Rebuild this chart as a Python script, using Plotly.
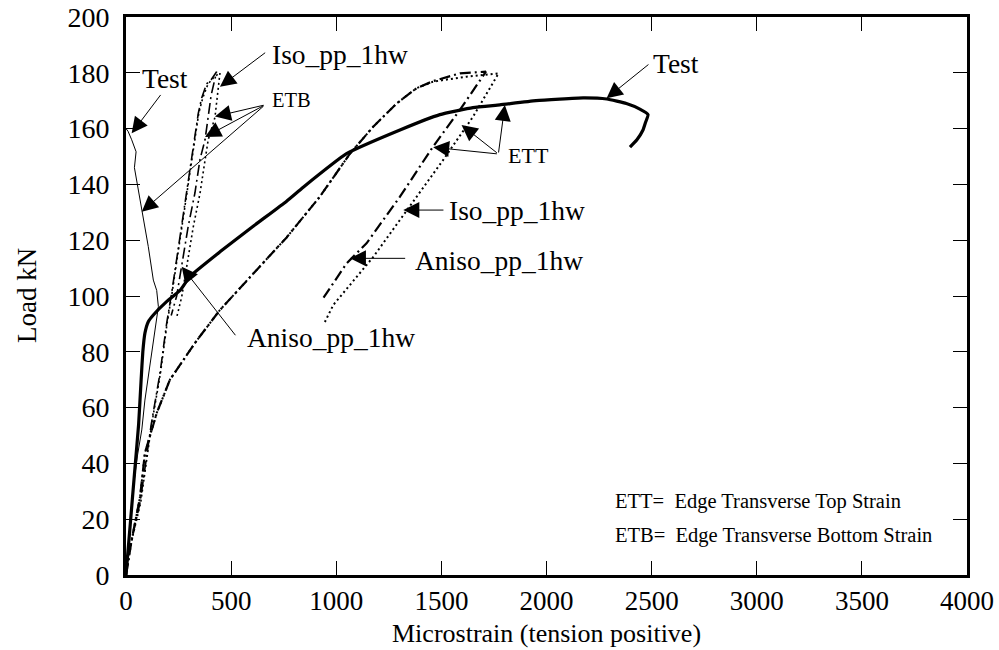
import plotly.graph_objects as go

# ---------------- data (microstrain, load kN) ----------------
test_ett_x = [0, 20, 40, 60, 72, 80, 90, 106, 130, 193, 257, 304, 450, 605, 764, 843, 1049, 1303, 1493,
              1650, 1778, 1950, 2174, 2287, 2380, 2444, 2483, 2470, 2459, 2430, 2397]
test_ett_y = [0, 18, 36, 54, 70, 80, 86.7, 90.8, 93.2, 98, 102, 107, 116, 125, 134, 139, 151, 159.5, 165,
              167.5, 168.5, 170, 171, 170.6, 169, 167, 165, 162, 159.5, 156, 153.4]

test_etb_x = [0, 15, 35, 55, 75, 90, 114, 130, 154, 146, 130, 106, 75, 50, 40, 48, 38, 27, 10, 0]
test_etb_y = [0, 15, 31.6, 43, 52, 62.7, 74.7, 84, 96.2, 102, 105.7, 117.7, 130.8, 141, 146, 151.7, 154, 156, 159, 160]

aniso_ett_x = [0, 27, 67, 90, 146, 209, 336, 447, 605, 764, 922, 1065, 1176, 1287, 1382, 1460, 1588, 1712,
               1588, 1460, 1303, 1144, 1049, 938]
aniso_ett_y = [0, 12.5, 28, 43.7, 58, 70, 84, 95, 108, 121, 135.6, 151, 160.7, 169, 174.5, 177, 179.8, 180.4,
               166.7, 153.5, 135.6, 118.9, 111.7, 99.2]

iso_ett_x = [0, 27, 67, 90, 146, 209, 336, 447, 605, 764, 922, 1065, 1176, 1287, 1382, 1460, 1508, 1620, 1772,
             1651, 1508, 1335, 1176, 986, 946]
iso_ett_y = [0, 12.5, 28, 43.7, 58, 70, 84, 95, 108, 121, 135.6, 151, 160.7, 169, 174.5, 176.8, 177.4, 178.6, 179.8,
             164.3, 148.7, 130.8, 114, 96.8, 90.7]

aniso_etb_x = [0, 19, 67, 120, 162, 193, 217, 241, 265, 288, 312, 344, 360, 383, 405, 431,
               405, 376, 352, 328, 296, 265, 241, 215]
aniso_etb_y = [0, 10, 26, 54, 72.4, 90, 101, 113, 125, 137, 149, 165.5, 171, 176, 177.5, 180.4,
               172, 156, 149, 137, 125, 110.5, 100, 93]

iso_etb_x = [0, 20, 70, 122, 164, 195, 219, 243, 267, 290, 314, 346, 365, 390, 420, 447,
             423, 391, 376, 352, 320, 288, 265, 240]
iso_etb_y = [0, 10, 26, 54, 72.4, 90, 101, 113, 125, 137, 149, 165.5, 171, 176, 178.5, 180,
             164, 156, 148.7, 136.8, 124.8, 110.5, 99.7, 92]

x_ticks = [0, 500, 1000, 1500, 2000, 2500, 3000, 3500, 4000]
y_ticks = [0, 20, 40, 60, 80, 100, 120, 140, 160, 180, 200]

FONT = "Liberation Serif"
DASHDOT = "11px,4px,2px,4px"
DOT = "2px,3px"

fig = go.Figure()
fig.add_trace(go.Scatter(x=test_ett_x, y=test_ett_y, mode="lines", name="Test ETT",
                         line=dict(color="black", width=3.2, shape="spline", smoothing=0.4)))
fig.add_trace(go.Scatter(x=test_etb_x, y=test_etb_y, mode="lines", name="Test ETB",
                         line=dict(color="black", width=1)))
fig.add_trace(go.Scatter(x=aniso_ett_x, y=aniso_ett_y, mode="lines", name="Aniso ETT",
                         line=dict(color="black", width=2.2, dash=DASHDOT)))
fig.add_trace(go.Scatter(x=iso_ett_x, y=iso_ett_y, mode="lines", name="Iso ETT",
                         line=dict(color="black", width=2, dash=DOT)))
fig.add_trace(go.Scatter(x=aniso_etb_x, y=aniso_etb_y, mode="lines", name="Aniso ETB",
                         line=dict(color="black", width=1.6, dash=DASHDOT)))
fig.add_trace(go.Scatter(x=iso_etb_x, y=iso_etb_y, mode="lines", name="Iso ETB",
                         line=dict(color="black", width=1.6, dash=DOT)))

LBL = 27.5
labels = [
    ("Test", 185, 178, LBL),
    ("Iso_pp_1hw", 1017, 186.5, LBL),
    ("ETB", 789, 170.3, 20.5),
    ("Aniso_pp_1hw", 977, 85, LBL),
    ("Test", 2618, 183.4, LBL),
    ("ETT", 1912, 150.5, 22),
    ("Iso_pp_1hw", 1858, 130.8, LBL),
    ("Aniso_pp_1hw", 1774, 112.9, LBL),
]
for t, x, y, s in labels:
    fig.add_annotation(x=x, y=y, text=t, showarrow=False, xanchor="center", yanchor="middle",
                       font=dict(family=FONT, size=s, color="black"))

arrows = [
    (170, 172.6, 27, 158.3),
    (669, 187.6, 447, 175),
    (661, 168.5, 423, 164.3),
    (661, 168.5, 376, 157),
    (661, 168.5, 75, 130.2),
    (526, 85.4, 265, 110.5),
    (2492, 183.4, 2286, 170.9),
    (1771, 150.9, 1461, 153.3),
    (1771, 150.9, 1596, 161.3),
    (1771, 150.9, 1802, 168.5),
    (1517, 130.8, 1319, 130.8),
    (1335, 113.5, 1065, 113.5),
]
for ax, ay, x, y in arrows:
    fig.add_annotation(x=x, y=y, ax=ax, ay=ay, axref="x", ayref="y", xref="x", yref="y",
                       text="", showarrow=True, arrowhead=2, arrowsize=3.2, arrowwidth=1,
                       arrowcolor="black", standoff=0, startstandoff=0)

notes = [("ETT=  Edge Transverse Top Strain", 26.2), ("ETB=  Edge Transverse Bottom Strain", 14.3)]
for t, y in notes:
    fig.add_annotation(x=2316, y=y, text=t, showarrow=False, xanchor="left", yanchor="middle",
                       font=dict(family=FONT, size=20.5, color="black"))

# axis titles
fig.add_annotation(xref="paper", yref="paper", x=0.5, y=-0.104, text="Microstrain (tension positive)",
                   showarrow=False, xanchor="center", yanchor="middle",
                   font=dict(family=FONT, size=26, color="black"))
fig.add_annotation(xref="paper", yref="paper", x=-0.1177, y=0.5, text="Load kN", textangle=-90,
                   showarrow=False, xanchor="center", yanchor="middle",
                   font=dict(family=FONT, size=27, color="black"))

axis_common = dict(showgrid=False, zeroline=False, showline=True, linecolor="black", linewidth=3,
                   mirror="allticks", ticks="inside", ticklen=14, tickwidth=1, tickcolor="black",
                   automargin=False)

fig.update_xaxes(range=[0, 4000], tickvals=x_ticks, ticktext=[str(v) for v in x_ticks],
                 ticklabelstandoff=0, tickfont=dict(family=FONT, size=27, color="black"), **axis_common)
fig.update_yaxes(range=[0, 200], tickvals=y_ticks, ticktext=[str(v) for v in y_ticks],
                 ticklabelstandoff=8, tickfont=dict(family=FONT, size=28, color="black"), **axis_common)

fig.update_layout(width=999, height=650, margin=dict(l=126, r=32, t=17, b=75),
                  paper_bgcolor="white", plot_bgcolor="white", showlegend=False)

fig.write_html("out.html")
